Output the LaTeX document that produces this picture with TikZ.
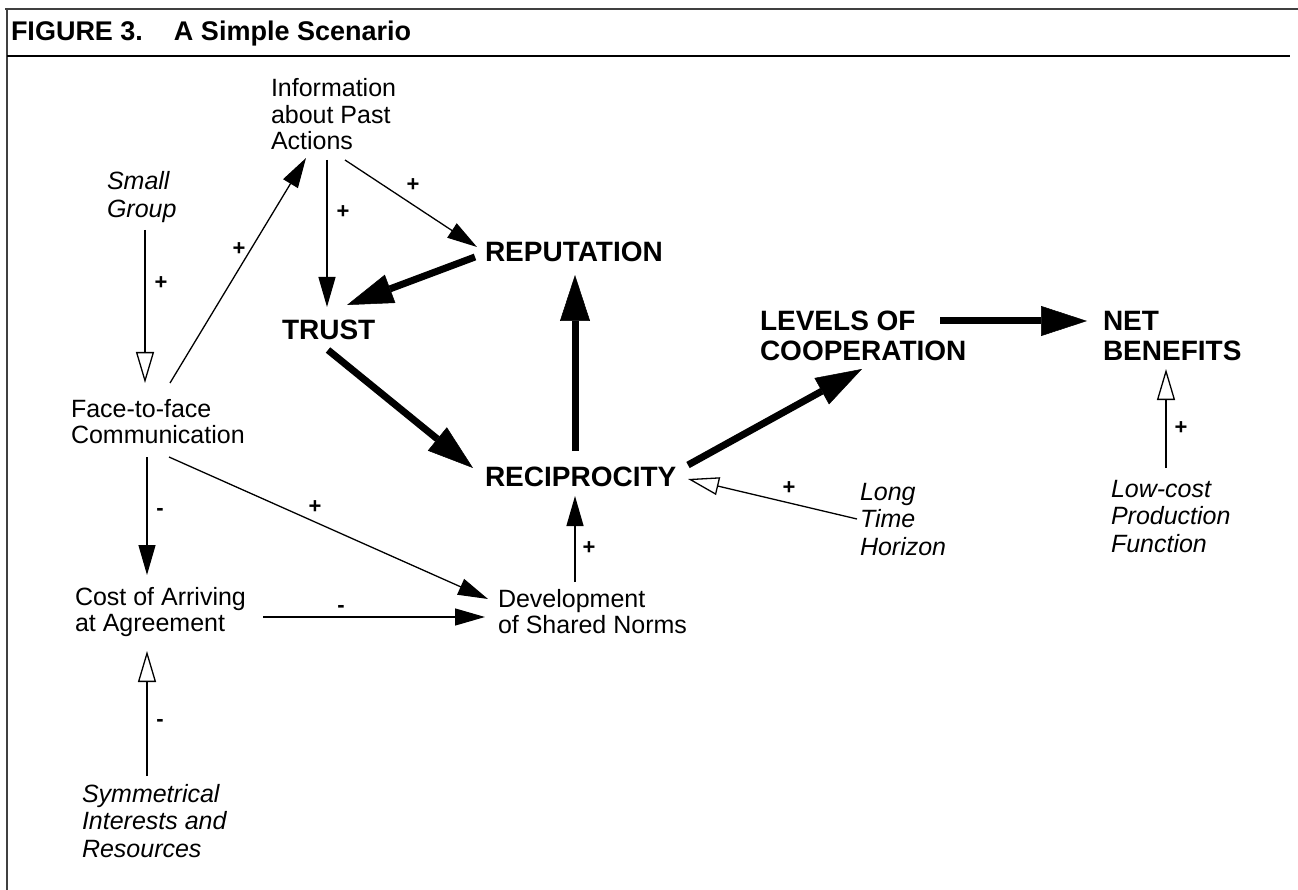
\documentclass[tikz,border=0pt]{standalone}
\usepackage{fontspec}
\setmainfont{Liberation Sans}
\usetikzlibrary{arrows.meta,calc}
\newcommand{\mlines}[1]{\begin{tabular}[t]{@{}l@{}}#1\end{tabular}}
\begin{document}
\begin{tikzpicture}[x=1pt,y=-1pt,
  every node/.style={inner sep=0pt,outer sep=0pt},
  txt/.style={anchor=base west,font=\fontsize{25}{26.5}\selectfont},
  itxt/.style={anchor=base west,font=\fontsize{25}{27.7}\selectfont\itshape},
  btxt/.style={anchor=base west,font=\fontsize{28}{29}\selectfont\bfseries},
  sign/.style={anchor=center,font=\fontsize{22}{22}\selectfont\bfseries},
  thinarr/.style={line width=1.3pt,-{Triangle[length=30pt,width=17pt]}},
  openarr/.style={line width=1.3pt,-{Triangle[open,length=31pt,width=18pt]}},
  thickarr/.style={line width=7pt,-{Triangle[length=46pt,width=30pt,line width=0.5pt]}},
  frameline/.style={line width=1.5pt,black!75}
]
\useasboundingbox (0,0) rectangle (1298,890);
% frame
\draw[frameline] (5,9) -- (1298,9);
\draw[frameline] (7,9) -- (7,890);
\draw[line width=2pt] (7,56) -- (1290,56);
\node[anchor=base west,font=\fontsize{27}{29}\selectfont\bfseries] (title) at (11,41) {FIGURE 3.\hspace{31pt}A Simple Scenario};
% nodes
\node[txt] (info) at (271,97) {\mlines{Information\\about Past\\Actions}};
\node[itxt] (sg) at (107,190) {\mlines{Small\\Group}};
\node[txt] (ftf) at (71,417) {\mlines{Face-to-face\\Communication}};
\node[txt] (cost) at (75,605) {\mlines{Cost of Arriving\\at Agreement}};
\node[itxt] (sym) at (82,802) {\mlines{Symmetrical\\Interests and\\Resources}};
\node[txt] (dev) at (498,607) {\mlines{Development\\of Shared Norms}};
\node[btxt] (trust) at (282,340) {TRUST};
\node[btxt] (rep) at (485,262) {REPUTATION};
\node[btxt] (recip) at (485,486) {RECIPROCITY};
\node[btxt] (lev) at (760,331) {\mlines{LEVELS OF\\COOPERATION}};
\node[btxt] (net) at (1103,331) {\mlines{NET\\BENEFITS}};
\node[itxt] (long) at (860,500) {\mlines{Long\\Time\\Horizon}};
\node[itxt] (low) at (1111,497) {\mlines{Low-cost\\Production\\Function}};
% connectors
\draw[openarr] ($(sg.base west)+(38,40)$) -- ($(ftf.base west)+(74,-34)$);
\draw[thinarr] ($(ftf.base west)+(99,-34)$) -- ($(info.base west)+(35,61)$);
\draw[thinarr] ($(info.base west)+(56,63)$) -- ($(trust.base west)+(45,-33)$);
\draw[thinarr] ($(info.base west)+(74,63)$) -- ($(rep.base west)+(-8,-15)$);
\draw[thickarr] ($(rep.base west)+(-10,-5)$) -- ($(trust.base west)+(65,-35)$);
\draw[thickarr] ($(trust.base west)+(46,10)$) -- ($(recip.base west)+(-12,-18)$);
\draw[thickarr] ($(recip.base west)+(90,-35)$) -- ($(rep.base west)+(90,13)$);
\draw[thickarr] ($(recip.base west)+(203,-21)$) -- ($(lev.base west)+(102,38)$);
\draw[thickarr] ($(lev.base west)+(180,-10)$) -- ($(net.base west)+(-16,-10)$);
\draw[openarr] ($(low.base west)+(55,-29)$) -- ($(net.base west)+(63,38)$);
\draw[openarr] ($(long.base west)+(-3,19)$) -- ($(recip.base west)+(203,-7)$);
\draw[thinarr] ($(dev.base west)+(77,-25)$) -- ($(recip.base west)+(90,10)$);
\draw[thinarr] ($(ftf.base west)+(98,40)$) -- ($(dev.base west)+(-10,-8)$);
\draw[thinarr] ($(ftf.base west)+(76,40)$) -- ($(cost.base west)+(72,-30)$);
\draw[thinarr] ($(cost.base west)+(188,12)$) -- ($(dev.base west)+(-13,10)$);
\draw[openarr] ($(sym.base west)+(65,-26)$) -- ($(cost.base west)+(72,46)$);
% signs
\node[sign] (s1) at (161,283) {+};
\node[sign] (s2) at (239,249) {+};
\node[sign] (s3) at (343,212) {+};
\node[sign] (s4) at (413,185) {+};
\node[sign] (s10) at (1181,428) {+};
\node[sign] (s11) at (789,488) {+};
\node[sign] (s12) at (589,548) {+};
\node[sign] (s13) at (315,507) {+};
\node[sign] (s14) at (160,512) {-};
\node[sign] (s15) at (341,609) {-};
\node[sign] (s16) at (160,723) {-};
\end{tikzpicture}
\end{document}
